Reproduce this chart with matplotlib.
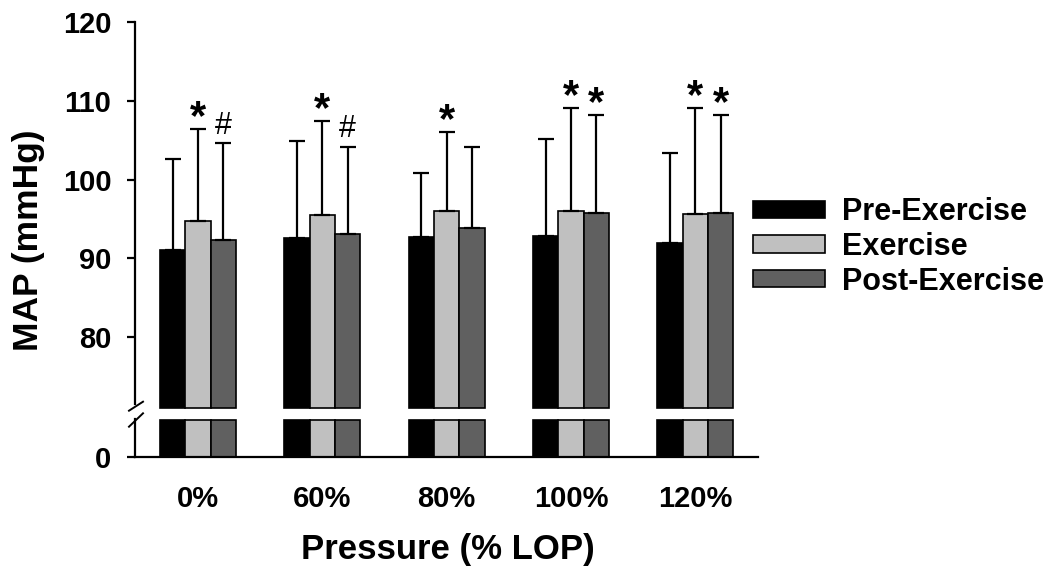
import numpy as np
import matplotlib
matplotlib.use('Agg')
import matplotlib.pyplot as plt
from matplotlib.lines import Line2D

plt.rcParams['font.family'] = ['Liberation Sans', 'DejaVu Sans']
plt.rcParams['font.weight'] = 'bold'

# Data (MAP in mmHg, mean and SD)
pressures = ['0%', '60%', '80%', '100%', '120%']
conditions = ['Pre-Exercise', 'Exercise', 'Post-Exercise']
pre_mean = [91.1, 92.6, 92.7, 92.9, 91.9]
pre_sd = [11.5, 12.3, 8.1, 12.3, 11.5]
ex_mean = [94.7, 95.5, 96.0, 96.0, 95.6]
ex_sd = [11.7, 11.9, 10.0, 13.1, 13.5]
post_mean = [92.3, 93.1, 93.9, 95.8, 95.8]
post_sd = [12.3, 11.1, 10.2, 12.4, 12.4]
# significance markers (Exercise, Post-Exercise)
ex_marks = ['*', '*', '*', '*', '*']
post_marks = ['#', '#', '', '*', '*']

colors = ['#000000', '#c0c0c0', '#606060']
means = [pre_mean, ex_mean, post_mean]
sds = [pre_sd, ex_sd, post_sd]

W, H = 1054, 573
fig = plt.figure(figsize=(W / 100, H / 100), dpi=100)

# pixel layout of the broken axis
left_px, right_px = 135, 758
top_px = 22.3
ppu = 7.87  # pixels per mmHg
up_lo, up_hi = 70.0, 120.0
zero_px = 457.3
lo_hi = 5.5

up_bottom_px = top_px + (up_hi - up_lo) * ppu
lo_top_px = zero_px - lo_hi * ppu

ax_top = fig.add_axes([left_px / W, 1 - up_bottom_px / H, (right_px - left_px) / W,
                       (up_bottom_px - top_px) / H])
ax_bot = fig.add_axes([left_px / W, 1 - zero_px / H, (right_px - left_px) / W,
                       (zero_px - lo_top_px) / H])
for a in (ax_top, ax_bot):
    a.set_facecolor('none')
    a.set_xlim(-0.507, 4.505)
    for s in ('top', 'right'):
        a.spines[s].set_visible(False)
    a.spines['left'].set_linewidth(1.6)
    a.tick_params(axis='y', direction='out', length=6, width=1.6, labelsize=21, pad=11)

ax_top.set_ylim(up_lo, up_hi)
ax_bot.set_ylim(0, lo_hi)
ax_top.spines['bottom'].set_visible(False)
ax_top.spines['left'].set_bounds(71.5, 120)
ax_bot.spines['left'].set_bounds(0, 4.9)
ax_bot.spines['bottom'].set_linewidth(1.6)

ax_top.set_yticks([80, 90, 100, 110, 120])
ax_top.set_xticks([])
ax_bot.set_yticks([0])

x = np.arange(len(pressures))
w = 0.2035
bar_floor = 71.0
bar_cap = 4.8
handles = []
for k in range(3):
    xs = x + (k - 1) * w
    m = np.array(means[k])
    h = ax_top.bar(xs, m - bar_floor, w, bottom=bar_floor, color=colors[k],
                   edgecolor='black', linewidth=1.2, label=conditions[k])
    handles.append(h)
    ax_bot.bar(xs, np.minimum(m, bar_cap), w, color=colors[k],
               edgecolor='black', linewidth=1.2)
    ax_top.errorbar(xs, m, yerr=[np.zeros(len(m)), sds[k]], fmt='none',
                    ecolor='black', elinewidth=1.6, capsize=5.5, capthick=1.6)

# significance symbols
for i in range(len(pressures)):
    for k, marks in ((1, ex_marks), (2, post_marks)):
        sym = marks[i]
        if not sym:
            continue
        top = means[k][i] + sds[k][i]
        if sym == '*':
            ax_top.annotate(sym, xy=(x[i] + (k - 1) * w, top), xytext=(0, 0),
                            textcoords='offset points', ha='center', va='baseline',
                            fontsize=30, fontweight='bold')
        else:
            ax_top.annotate(sym, xy=(x[i] + (k - 1) * w, top), xytext=(0, 7),
                            textcoords='offset points', ha='center', va='baseline',
                            fontsize=22, fontweight='normal')

ax_bot.set_xticks(x)
ax_bot.set_xticklabels(pressures)
ax_bot.tick_params(axis='x', length=0, labelsize=21, pad=20)

# break marks on the y axis
for y0, y1 in ((410.7, 401.7), (426.7, 413.3)):
    fig.add_artist(Line2D([129 / W, 143 / W], [1 - y0 / H, 1 - y1 / H],
                          transform=fig.transFigure, color='black', linewidth=1.4))

fig.text(448 / W, 1 - 549 / H, 'Pressure (% LOP)', ha='center', va='center', fontsize=25)
fig.text(29 / W, 1 - 240 / H, 'MAP (mmHg)', ha='center', va='center', rotation=90, fontsize=25.5)

fig.legend(handles=handles, loc='center left', bbox_to_anchor=(753 / W, 1 - 247 / H),
           bbox_transform=fig.transFigure, frameon=False, borderpad=0, borderaxespad=0,
           handlelength=2.35, handleheight=0.5, handletextpad=0.55, labelspacing=0.15,
           fontsize=22)

fig.savefig('out.png', dpi=100)
